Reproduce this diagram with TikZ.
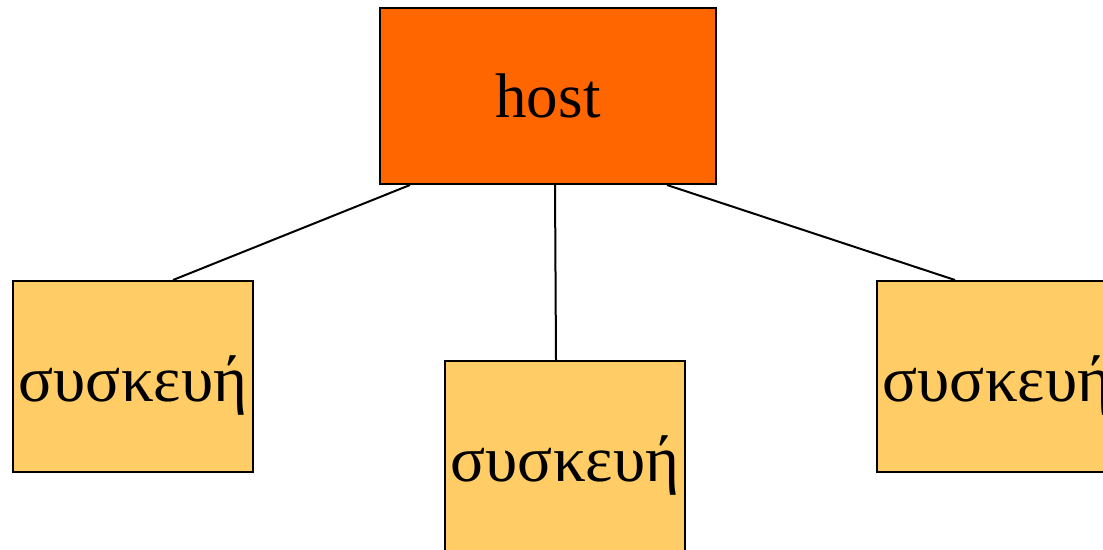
\documentclass[tikz,border=0pt]{standalone}
\usepackage{fontspec}
\setmainfont{Liberation Serif}
\definecolor{hostfill}{HTML}{FF6600}
\definecolor{devfill}{HTML}{FFCC66}
\tikzset{
  hostbox/.style={draw=black, line width=2pt, fill=hostfill, inner sep=0pt,
    minimum width=336pt, minimum height=176pt, font=\fontsize{63}{70}\selectfont},
  devbox/.style={draw=black, line width=2pt, fill=devfill, inner sep=0pt,
    minimum width=240pt, text height=120pt, text depth=71pt,
    font=\fontsize{65}{72}\selectfont},
  link/.style={line width=2pt}
}
\begin{document}
\begin{tikzpicture}[x=1pt,y=-1pt]
  \useasboundingbox (0,0) rectangle (1103,549);
  \clip (0,0) rectangle (1103,549);
  % host
  \node[hostbox] (host) at (548,96) {host};
  % devices (text baseline sits 120pt below each box's top edge)
  \node[devbox, anchor=north west] (devL) at (12,280) {συσκευή};
  \node[devbox, anchor=north west] (devM) at (444,360) {συσκευή};
  \node[devbox, anchor=north west] (devR) at (876,280) {συσκευή};
  % connectors
  \draw[link] ([xshift=31pt]host.south west) -- ([xshift=161pt]devL.north west);
  \draw[link] ([xshift=176pt]host.south west) -- ([xshift=112pt]devM.north west);
  \draw[link] ([xshift=288pt]host.south west) -- ([xshift=79pt]devR.north west);
\end{tikzpicture}
\end{document}
